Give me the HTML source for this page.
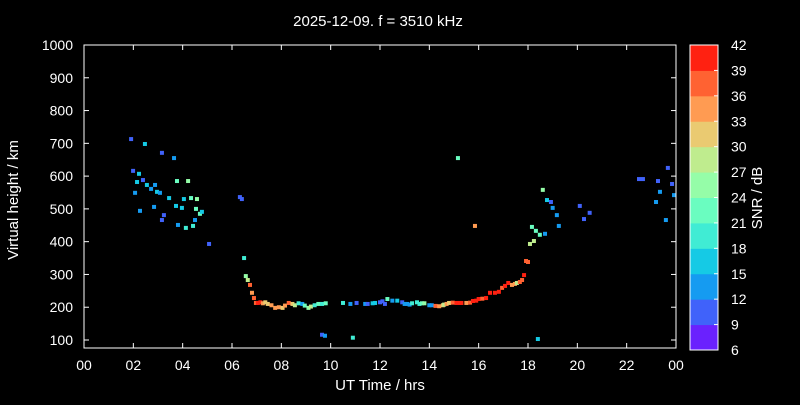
<!DOCTYPE html>
<html><head><meta charset="utf-8"><style>
body{margin:0;background:#000}
svg text{font-family:"Liberation Sans",sans-serif;fill:#fff}
</style></head><body>
<svg id="chart" width="800" height="400">
<rect width="800" height="400" fill="#000"/>
<g id="marks"></g>
<g id="axes"></g>
<text x="378" y="26" text-anchor="middle" font-size="15">2025-12-09. f = 3510 kHz</text>
<text x="380" y="390" text-anchor="middle" font-size="15">UT Time / hrs</text>
<text transform="translate(18,200) rotate(-90)" text-anchor="middle" font-size="15">Virtual height / km</text>
<g id="cbar"></g>
<text transform="translate(762,198) rotate(-90)" text-anchor="middle" font-size="15">SNR / dB</text>
</svg>
<script>
const hours=[1.91,2.47,3.16,3.65,1.99,2.23,2.39,2.15,2.55,2.88,2.07,2.72,2.96,3.08,3.45,3.77,3.73,2.84,2.27,3.24,4.22,4.34,4.54,4.70,4.58,4.50,4.78,4.05,3.97,3.81,3.16,4.42,4.13,5.07,6.32,6.40,6.49,
6.56,6.64,6.73,6.81,6.89,6.97,7.05,7.15,7.25,7.35,7.45,7.6,7.75,7.9,8.05,8.15,8.3,8.45,8.55,8.7,8.85,8.95,9.1,9.2,9.35,9.5,9.65,9.8,10.5,10.8,11.05,11.4,11.5,11.7,11.8,12.0,12.1,12.2,12.3,12.5,12.7,12.9,13.0,13.1,13.2,13.3,13.5,13.6,13.7,13.8,14.0,14.1,14.25,14.4,14.55,14.6,14.7,14.8,14.95,15.1,15.24,15.3,15.5,15.65,15.77,15.9,16.0,16.15,16.3,16.46,16.66,16.82,16.95,17.07,17.2,17.35,17.47,17.55,17.67,17.76,17.84,17.92,18.0,18.08,18.24,18.16,18.32,18.48,18.69,
9.65,9.77,10.9,18.4,15.16,15.85,18.6,18.77,18.93,19.0,19.17,19.25,20.1,20.27,20.5,22.5,22.66,23.27,23.19,23.35,23.67,23.84,23.92,23.59];
const heights=[713,698,671,655,616,607,588,582,573,573,549,561,552,549,533,585,509,506,494,481,585,533,500,485,530,466,491,530,503,451,466,448,442,393,536,530,350,
295,283,268,244,228,213,213,215,212,215,210,206,198,200,198,205,213,210,206,212,210,205,198,202,206,210,210,212,213,210,213,210,210,212,213,215,218,210,225,220,220,215,210,210,208,212,215,210,212,212,206,206,204,203,206,208,210,213,214,213,213,213,213,214,219,220,225,226,228,244,244,247,259,265,274,268,271,274,277,283,298,341,338,393,402,445,433,421,424,
116,113,107,103,655,448,558,527,521,503,481,448,509,469,488,591,591,585,521,552,625,576,542,466];
const snr=[10,16,10,13,10,16,10,16,16,13,13,13,16,13,16,22,16,13,13,10,25,22,22,22,25,13,16,16,16,13,10,19,19,10,10,10,19,
25,28,37,34,37,37,40,40,34,31,31,34,34,34,31,34,37,31,28,19,13,22,25,28,19,22,19,22,19,13,10,13,10,16,16,10,10,10,22,13,16,10,13,13,13,19,19,19,22,25,13,13,37,34,31,28,34,31,37,40,40,40,34,37,40,40,40,37,40,40,40,40,37,40,40,34,34,28,37,37,40,37,37,28,28,22,22,22,13,10,
13,19,16,22,34,25,16,10,13,13,13,10,10,10,10,10,10,13,13,10,10,13,13,10];
const xTicks=["00","02","04","06","08","10","12","14","16","18","20","22","00"];
const yTicks=[100,200,300,400,500,600,700,800,900,1000];
const cTicks=[6,9,12,15,18,21,24,27,30,33,36,39,42];

const NS="http://www.w3.org/2000/svg";
const X0=84,X1=676,Y0=340,Y1=45;
const xs=h=>X0+(h/24)*(X1-X0);
const ys=v=>Y0-(v-100)/900*(Y0-Y1);
function rainbow(t){const r=Math.min(1,Math.abs(2*t-0.5)),g=Math.sin(Math.PI*t),b=Math.cos(Math.PI*t/2);
 return `rgb(${Math.round(r*255)},${Math.round(g*255)},${Math.round(b*255)})`;}
function snrColor(s){let i=Math.floor((s-6)/3);i=Math.max(0,Math.min(11,i));return rainbow((i+0.5)/12);}
function mk(tag,a,p){const e=document.createElementNS(NS,tag);for(const k in a)e.setAttribute(k,a[k]);p.appendChild(e);return e;}
const marks=document.getElementById('marks');
hours.forEach((h,i)=>{const r=mk('rect',{x:xs(h)-2,y:ys(heights[i])-2,width:4,height:4,fill:snrColor(snr[i])},marks);

});
const ax=document.getElementById('axes');
const fr=mk('rect',{x:X0,y:Y1,width:X1-X0,height:Y0-Y1+8,fill:'none',stroke:'#fff','stroke-width':1},ax);


xTicks.forEach((t,i)=>{const x=X0+i*(X1-X0)/12;
 mk('line',{x1:x,x2:x,y1:Y0+8,y2:Y0+3,stroke:'#fff'},ax);
 mk('line',{x1:x,x2:x,y1:Y1,y2:Y1+5,stroke:'#fff'},ax);
 const tx=mk('text',{x:x,y:370,'text-anchor':'middle','font-size':14},ax);tx.textContent=t;
 
 });
yTicks.forEach(v=>{const y=ys(v);
 mk('line',{x1:X0,x2:X0+5,y1:y,y2:y,stroke:'#fff'},ax);
 mk('line',{x1:X1,x2:X1-5,y1:y,y2:y,stroke:'#fff'},ax);
 const tx=mk('text',{x:X0-11,y:y+5,'text-anchor':'end','font-size':14},ax);tx.textContent=v;
 
 });
const cb=document.getElementById('cbar');
const CX=690,CW=28,CT=45,CB=350,bh=(CB-CT)/12;
for(let i=0;i<12;i++){const r=mk('rect',{x:CX,y:CB-(i+1)*bh,width:CW,height:bh+0.5,fill:rainbow((i+0.5)/12)},cb);
 
 }
mk('rect',{x:CX,y:CT,width:CW,height:CB-CT,fill:'none',stroke:'#fff'},cb);
cTicks.forEach((v,i)=>{const y=CB-i*bh;
 mk('line',{x1:CX+CW-4,x2:CX+CW,y1:y,y2:y,stroke:'#fff'},cb);
 const tx=mk('text',{x:731,y:y+5,'font-size':14},cb);tx.textContent=v;
 
 });
</script>
</body></html>
